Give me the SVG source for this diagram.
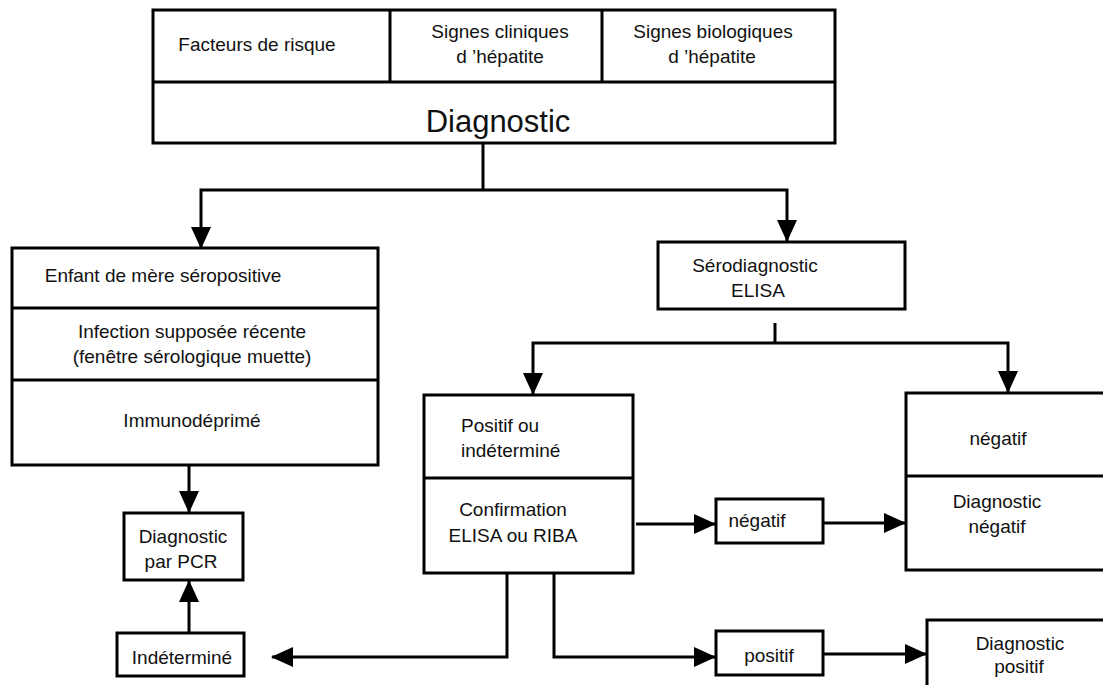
<svg xmlns="http://www.w3.org/2000/svg" width="1103" height="685" viewBox="0 0 1103 685">
<style>
.box{fill:#fff;stroke:#000;stroke-width:3}
.div{stroke:#000;stroke-width:3;fill:none}
.t{font-family:"Liberation Sans",Arial,sans-serif;font-size:19px;fill:#111;text-anchor:middle}
.s{text-anchor:start}
.big{font-size:31px}
.c{fill:none;stroke:#000;stroke-width:3}
.ca{fill:none;stroke:#000;stroke-width:3;marker-end:url(#ah)}
</style>
<defs>
<marker id="ah" markerUnits="userSpaceOnUse" markerWidth="22" markerHeight="20" refX="21" refY="10" orient="auto">
<path d="M0,0 L22,10 L0,20 Z" fill="#000"/>
</marker>
</defs>
<rect width="1103" height="685" fill="#fff"/>
<g id="top">
<rect class="box" x="153" y="10" width="682" height="133"/>
<line class="div" x1="153" y1="82" x2="835" y2="82"/>
<line class="div" x1="390" y1="10" x2="390" y2="82"/>
<line class="div" x1="602" y1="10" x2="602" y2="82"/>
<text class="t" x="257" y="51">Facteurs de risque</text>
<text class="t" x="500" y="38">Signes cliniques</text>
<text class="t" x="500" y="63">d ’hépatite</text>
<text class="t" x="713" y="38">Signes biologiques</text>
<text class="t" x="712" y="63">d ’hépatite</text>
<text class="t big" x="498" y="132">Diagnostic</text>
</g>
<g id="left">
<rect class="box" x="12" y="248" width="366" height="217"/>
<line class="div" x1="12" y1="308" x2="378" y2="308"/>
<line class="div" x1="12" y1="380" x2="378" y2="380"/>
<text class="t" x="163" y="282">Enfant de mère séropositive</text>
<text class="t" x="192" y="338">Infection supposée récente</text>
<text class="t" x="192" y="363">(fenêtre sérologique muette)</text>
<text class="t" x="192" y="427">Immunodéprimé</text>
</g>
<g id="sero">
<rect class="box" x="658" y="242" width="247" height="67"/>
<text class="t" x="755" y="272">Sérodiagnostic</text>
<text class="t" x="758" y="297">ELISA</text>
</g>
<g id="positif-indet">
<rect class="box" x="424" y="395" width="209" height="178"/>
<line class="div" x1="424" y1="478" x2="633" y2="478"/>
<text class="t s" x="461" y="432">Positif ou</text>
<text class="t s" x="461" y="457">indéterminé</text>
<text class="t" x="513" y="516">Confirmation</text>
<text class="t" x="513" y="542">ELISA ou RIBA</text>
</g>
<g id="negatif-right">
<rect class="box" x="906" y="393" width="204" height="177"/>
<line class="div" x1="906" y1="476" x2="1110" y2="476"/>
<text class="t" x="998" y="445">négatif</text>
<text class="t" x="997" y="508">Diagnostic</text>
<text class="t" x="997" y="533">négatif</text>
</g>
<g id="negatif-small">
<rect class="box" x="716" y="499" width="107" height="44"/>
<text class="t" x="757" y="527">négatif</text>
</g>
<g id="positif-small">
<rect class="box" x="716" y="631" width="107" height="44"/>
<text class="t" x="769" y="662">positif</text>
</g>
<g id="diag-positif">
<rect class="box" x="927" y="620" width="183" height="80"/>
<text class="t" x="1020" y="650">Diagnostic</text>
<text class="t" x="1019" y="673">positif</text>
</g>
<g id="pcr">
<rect class="box" x="124" y="513" width="119" height="67"/>
<text class="t" x="183" y="543">Diagnostic</text>
<text class="t" x="181" y="568">par PCR</text>
</g>
<g id="indetermine">
<rect class="box" x="117" y="633" width="127" height="43"/>
<text class="t" x="182" y="664">Indéterminé</text>
</g>
<g id="connectors">
<path class="c" d="M483,143 V190"/>
<path class="ca" d="M483,190 H201 V248"/>
<path class="ca" d="M483,190 H787 V241"/>
<path class="c" d="M775,323 V343"/>
<path class="ca" d="M775,343 H533 V394"/>
<path class="ca" d="M775,343 H1008 V392"/>
<path class="ca" d="M189,465 V512"/>
<path class="ca" d="M189,633 V581"/>
<path class="ca" d="M636,524 H715"/>
<path class="ca" d="M823,523 H905"/>
<path class="ca" d="M507,573 V657 H272"/>
<path class="ca" d="M554,573 V657 H715"/>
<path class="ca" d="M823,654 H926"/>
</g>
</svg>
